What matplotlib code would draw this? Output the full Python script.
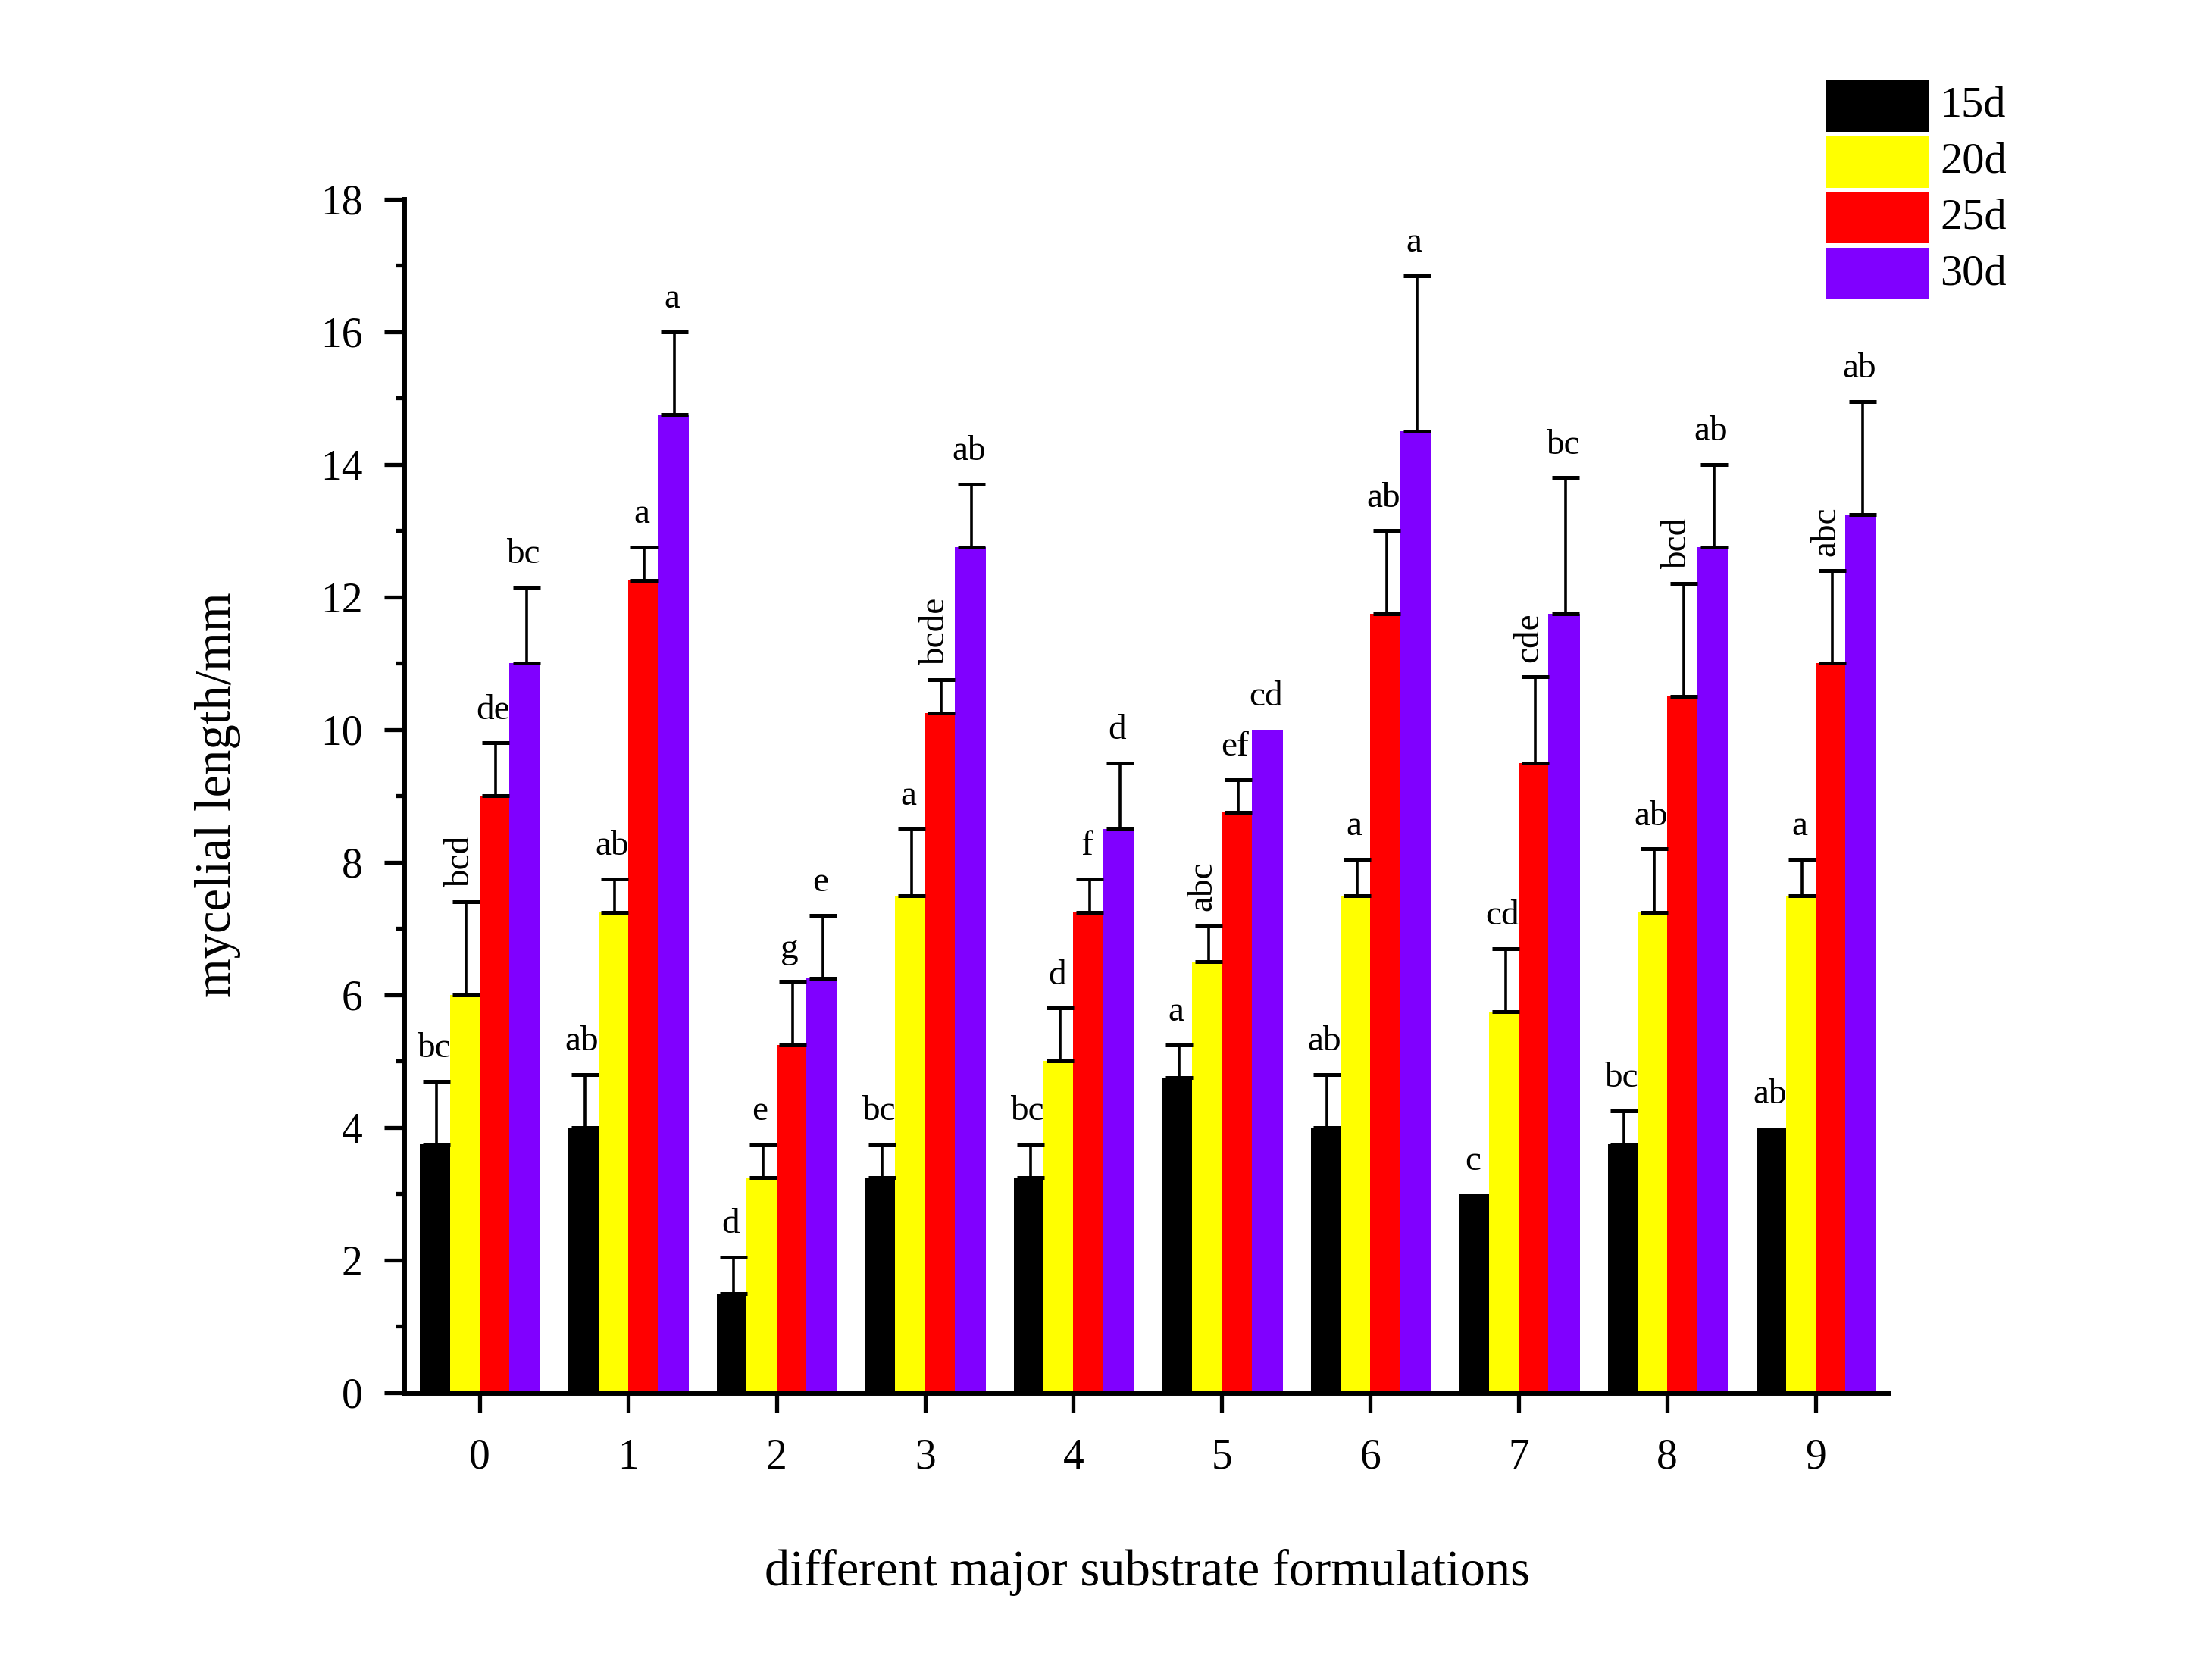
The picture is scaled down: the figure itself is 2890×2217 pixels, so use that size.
import matplotlib
matplotlib.use("Agg")
import matplotlib.pyplot as plt
from matplotlib.patches import Rectangle
from matplotlib.ticker import MultipleLocator
import numpy as np

plt.rcParams['font.family'] = ['Liberation Serif', 'DejaVu Serif']

formulations = ['0', '1', '2', '3', '4', '5', '6', '7', '8', '9']
series = ['15d', '20d', '25d', '30d']
colors = ['#000000', '#FFFF00', '#FF0000', '#8000FF']

len_15d = [3.75, 4.0, 1.5, 3.25, 3.25, 4.75, 4.0, 3.0, 3.75, 4.0]
len_20d = [6.0, 7.25, 3.25, 7.5, 5.0, 6.5, 7.5, 5.75, 7.25, 7.5]
len_25d = [9.0, 12.25, 5.25, 10.25, 7.25, 8.75, 11.75, 9.5, 10.5, 11.0]
len_30d = [11.0, 14.75, 6.25, 12.75, 8.5, 10.0, 14.5, 11.75, 12.75, 13.25]

err_15d = [0.95, 0.8, 0.55, 0.5, 0.5, 0.5, 0.8, 0.0, 0.5, 0.0]
err_20d = [1.4, 0.5, 0.5, 1.0, 0.8, 0.55, 0.55, 0.95, 0.95, 0.55]
err_25d = [0.8, 0.5, 0.95, 0.5, 0.5, 0.5, 1.25, 1.3, 1.7, 1.4]
err_30d = [1.15, 1.25, 0.95, 0.95, 1.0, 0.0, 2.35, 2.05, 1.25, 1.7]

let_15d = ['bc', 'ab', 'd', 'bc', 'bc', 'a', 'ab', 'c', 'bc', 'ab']
let_20d = ['bcd', 'ab', 'e', 'a', 'd', 'abc', 'a', 'cd', 'ab', 'a']
let_25d = ['de', 'a', 'g', 'bcde', 'f', 'ef', 'ab', 'cde', 'bcd', 'abc']
let_30d = ['bc', 'a', 'e', 'ab', 'd', 'cd', 'a', 'bc', 'ab', 'ab']

values = [len_15d, len_20d, len_25d, len_30d]
errors = [err_15d, err_20d, err_25d, err_30d]
letters = [let_15d, let_20d, let_25d, let_30d]

W, H = 2890, 2217
fig = plt.figure(figsize=(W / 200, H / 200), dpi=200)
ax = fig.add_axes([0.1844, 0.1710, 0.6779, 0.7104])

x = np.arange(len(formulations))
offsets = [-0.3, -0.1, 0.1, 0.305]
widths = [0.2, 0.2, 0.2, 0.21]

for k in range(4):
    xs = x + offsets[k]
    ax.bar(xs, values[k], width=widths[k], color=colors[k], label=series[k], zorder=2)
    v = np.array(values[k])
    e = np.array(errors[k])
    has = e > 0
    ax.errorbar(xs[has] + 0.01, v[has], yerr=[np.zeros(has.sum()), e[has]],
                fmt='none', ecolor='black', elinewidth=1.3, capsize=6.5,
                capthick=1.8, zorder=3)
    for i in range(len(x)):
        top = v[i] + e[i]
        lab = letters[k][i]
        if len(lab) >= 3:
            ax.text(xs[i] - 0.03, top + 0.22, lab, rotation=90, ha='center',
                    va='bottom', fontsize=17)
        else:
            ax.text(xs[i] - 0.01, top + 0.25, lab, ha='center', va='bottom',
                    fontsize=17)

ax.set_xlim(-0.51, 9.49)
ax.set_ylim(0, 18)
ax.set_xticks(x)
ax.set_xticklabels(formulations)
ax.yaxis.set_major_locator(MultipleLocator(2))
ax.yaxis.set_minor_locator(MultipleLocator(1))

for side in ['top', 'right']:
    ax.spines[side].set_visible(False)
for side in ['left', 'bottom']:
    ax.spines[side].set_linewidth(2.5)

ax.tick_params(axis='both', which='major', direction='out', labelsize=20,
               width=1.9, length=9.5)
ax.tick_params(axis='y', which='minor', direction='out', width=1.9, length=4)
ax.tick_params(axis='y', which='major', pad=10)
ax.tick_params(axis='x', which='major', pad=12)

fig.text(287 / W, 0.527, 'mycelial length/mm', rotation=90, ha='center',
         va='center', fontsize=24)
fig.text(0.524, 0.064, 'different major substrate formulations', ha='center',
         va='center', fontsize=24)

# legend: coloured boxes with labels at the top right
box_x0, box_w, box_h = 2409, 137, 68
row_tops = [106, 180, 253, 327]
for k in range(4):
    top = row_tops[k]
    fig.patches.append(Rectangle((box_x0 / W, 1 - (top + box_h) / H), box_w / W,
                                 box_h / H, transform=fig.transFigure,
                                 facecolor=colors[k], edgecolor='none'))
    fig.text(2560 / W, 1 - (top + box_h / 2) / H, series[k], ha='left',
             va='center', fontsize=21)

fig.savefig('out.png', dpi=200)
